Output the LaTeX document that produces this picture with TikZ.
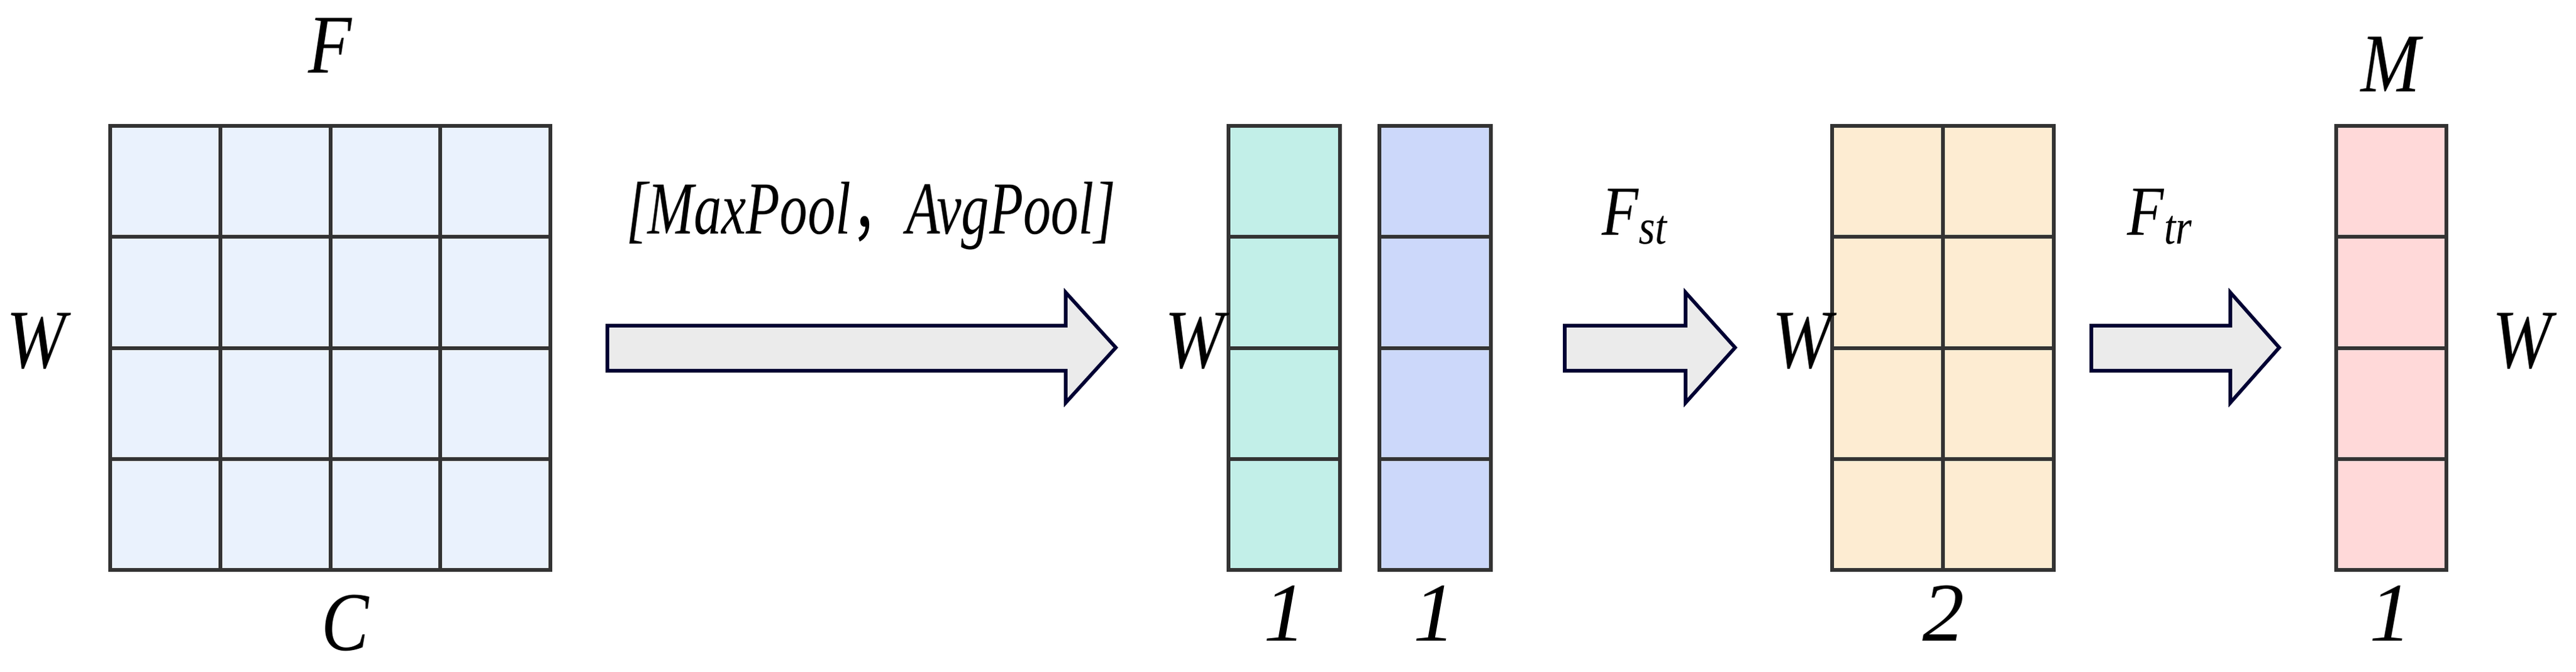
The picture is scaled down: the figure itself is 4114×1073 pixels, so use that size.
\documentclass[tikz,border=0pt]{standalone}
\usepackage{fontspec}
\setmainfont{Liberation Serif}
\newfontfamily\cjk{Noto Sans CJK SC}
\begin{document}
\begin{tikzpicture}[x=0.01cm,y=-0.01cm,
  grid/.style={draw=black!80,line width=1.5pt},
  blk/.style={draw=black!80,line width=1.5pt},
  barrow/.style={draw=blue!20!black,fill=black!8,line width=1.6pt,line join=miter},
  lab/.style={inner sep=0pt,font=\fontsize{38}{42}\selectfont\itshape},
  sub/.style={inner sep=0pt,font=\fontsize{32}{36}\selectfont\itshape}]
\definecolor{cF}{HTML}{EAF2FD}
\definecolor{cT}{HTML}{C2EFE8}
\definecolor{cB}{HTML}{CCD8FA}
\definecolor{cO}{HTML}{FDECD2}
\definecolor{cP}{HTML}{FFD9D9}
\useasboundingbox (0,0) rectangle (4114,1073);
% big grid
\fill[cF] (176,201) rectangle (879,910);
\foreach \x in {352,528,703} \draw[grid] (\x,201) -- (\x,910);
\foreach \y in {378,556,733} \draw[grid] (176,\y) -- (879,\y);
\draw[blk] (176,201) rectangle (879,910);
% teal
\fill[cT] (1962,201) rectangle (2140,910);
\foreach \y in {378,556,733} \draw[grid] (1962,\y) -- (2140,\y);
\draw[blk] (1962,201) rectangle (2140,910);
% blue
\fill[cB] (2203,201) rectangle (2381,910);
\foreach \y in {378,556,733} \draw[grid] (2203,\y) -- (2381,\y);
\draw[blk] (2203,201) rectangle (2381,910);
% orange
\fill[cO] (2926,201) rectangle (3280,910);
\draw[grid] (3103,201) -- (3103,910);
\foreach \y in {378,556,733} \draw[grid] (2926,\y) -- (3280,\y);
\draw[blk] (2926,201) rectangle (3280,910);
% pink
\fill[cP] (3731,201) rectangle (3907,910);
\foreach \y in {378,556,733} \draw[grid] (3731,\y) -- (3907,\y);
\draw[blk] (3731,201) rectangle (3907,910);
% block arrows
\draw[barrow] (970,520) -- (1702,520) -- (1702,467) -- (1782,555) -- (1702,643) -- (1702,592) -- (970,592) -- cycle;
\draw[barrow] (2499,520) -- (2692,520) -- (2692,467) -- (2771,555) -- (2692,643) -- (2692,592) -- (2499,592) -- cycle;
\draw[barrow] (3340,520) -- (3562,520) -- (3562,467) -- (3640,555) -- (3562,643) -- (3562,592) -- (3340,592) -- cycle;
% labels
\node[lab] (lF) at (527,73) {\scalebox{0.85}[1]{F}};
\node[lab] (lC) at (551,995) {\scalebox{0.85}[1]{C}};
\node[lab] (lW1) at (58,545) {\scalebox{0.85}[1]{W}};
\node[inner sep=0pt,font=\fontsize{34}{38}\selectfont\itshape] (lmp) at (1391,345) {\scalebox{0.74}[1]{[MaxPool{\cjk\upshape ，}AvgPool]}};
\node[lab] (lW2) at (1908,545) {\scalebox{0.85}[1]{W}};
\node[sub] (lFst) at (2611,346) {\scalebox{0.85}[1]{F\textsubscript{st}}};
\node[lab] (lW3) at (2878,545) {\scalebox{0.85}[1]{W}};
\node[sub] (lFtr) at (3450,346) {\scalebox{0.85}[1]{F\textsubscript{tr}}};
\node[lab] (lM) at (3818,103) {\scalebox{0.85}[1]{M}};
\node[lab] (lW4) at (4028,545) {\scalebox{0.85}[1]{W}};
\node[lab] (l1a) at (2052,979) {1};
\node[lab] (l1b) at (2291,979) {1};
\node[lab] (l2) at (3104,979) {2};
\node[lab] (l1c) at (3818,979) {1};
\end{tikzpicture}
\end{document}
